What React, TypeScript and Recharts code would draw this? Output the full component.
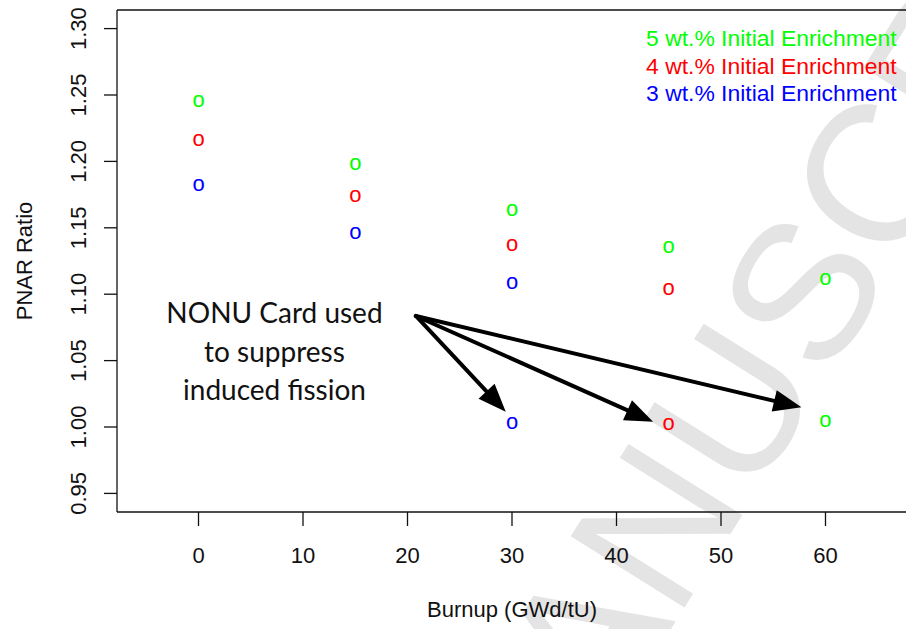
import React from "react";
import {
  ScatterChart,
  Scatter,
  XAxis,
  YAxis,
  ReferenceLine,
  ReferenceDot,
} from "recharts";

// burnup points (GWd/tU) and PNAR ratios per enrichment
const burnup = [0, 15, 30, 45, 60];
const pnar5 = [1.245, 1.198, 1.163, 1.135, 1.111];
const pnar4 = [1.216, 1.174, 1.137, 1.104];
const pnar3 = [1.182, 1.146, 1.108];

// runs with the NONU card (5, 4, 3 wt.%)
const nonuBurnup = [60, 45, 30];
const nonuPnar = [1.004, 1.002, 1.003];

const seriesNames = [
  "5 wt.% Initial Enrichment",
  "4 wt.% Initial Enrichment",
  "3 wt.% Initial Enrichment",
];
const seriesColors = ["#00ff00", "#ff0000", "#0000ff"];

const xTicks = [0, 10, 20, 30, 40, 50, 60];
const yTicks = [0.95, 1.0, 1.05, 1.1, 1.15, 1.2, 1.25, 1.3];

// annotation: arrow tail and tips, text anchor
const arrowTail = [20.8, 1.0836];
const arrowTipX = [29.4, 43.5, 57.7];
const arrowTipY = [1.0115, 1.004, 1.0148];
const noteLines = ["NONU Card used", "to suppress", "induced fission"];
const noteAt = [7.27, 1.0492];

const X_DOMAIN = [-7.8, 67.8];
const Y_DOMAIN = [0.936, 1.314];

const FONT = "'Liberation Sans', Arial, Helvetica, sans-serif";

const pnarSets = [pnar5, pnar4, pnar3];
const seriesData = pnarSets.map((vals, k) =>
  vals
    .map((y, i) => ({ x: burnup[i], y }))
    .concat({ x: nonuBurnup[k], y: nonuPnar[k] })
);

function LetterO(props: any) {
  const { cx, cy, fill } = props;
  if (cx == null || cy == null) return null;
  return (
    <text
      x={cx}
      y={cy + 5.7}
      textAnchor="middle"
      fill={fill}
      fontSize={22}
      fontFamily={FONT}
    >
      o
    </text>
  );
}

function Arrow(props: any) {
  const { x1, y1, x2, y2 } = props;
  if (x1 == null) return null;
  const dx = x2 - x1;
  const dy = y2 - y1;
  const len = Math.sqrt(dx * dx + dy * dy);
  const ux = dx / len;
  const uy = dy / len;
  const head = 28;
  const half = 11;
  const bx = x2 - ux * head;
  const by = y2 - uy * head;
  const pts = [
    [x2, y2],
    [bx - uy * half, by + ux * half],
    [bx + uy * half, by - ux * half],
  ]
    .map((p) => p.join(","))
    .join(" ");
  return (
    <g>
      <line
        x1={x1}
        y1={y1}
        x2={bx + ux * 2}
        y2={by + uy * 2}
        stroke="#000"
        strokeWidth={4}
        strokeLinecap="round"
      />
      <polygon points={pts} fill="#000" />
    </g>
  );
}

function Note(props: any) {
  const { cx, cy } = props;
  if (cx == null) return null;
  return (
    <g>
      {noteLines.map((t, i) => (
        <text
          key={t}
          x={cx}
          y={cy + (i - 1) * 38.5}
          textAnchor="middle"
          fontSize={28}
          fontFamily="Lato, 'Open Sans', sans-serif"
          fill="#111"
        >
          {t}
        </text>
      ))}
    </g>
  );
}

function XTick(props: any) {
  const { x, y, payload } = props;
  return (
    <text x={x} y={y} dy={35} textAnchor="middle" fontSize={22} fontFamily={FONT} fill="#111">
      {payload.value}
    </text>
  );
}

function YTick(props: any) {
  const { x, y, payload } = props;
  const bx = x - 16;
  return (
    <text
      x={bx}
      y={y}
      transform={`rotate(-90, ${bx}, ${y})`}
      textAnchor="middle"
      fontSize={22}
      fontFamily={FONT}
      fill="#111"
    >
      {Number(payload.value).toFixed(2)}
    </text>
  );
}

function XTitle(props: any) {
  const vb = props.viewBox || { x: 117, y: 512, width: 790, height: 117 };
  const cx = vb.x + vb.width / 2;
  const by = vb.y + 105;
  return (
    <text x={cx} y={by} textAnchor="middle" fontSize={22} fontFamily={FONT} fill="#111">
      Burnup (GWd/tU)
    </text>
  );
}

function YTitle(props: any) {
  const vb = props.viewBox || { x: 0, y: 10, width: 117, height: 502 };
  const bx = vb.x + 32;
  const cy = vb.y + vb.height / 2;
  return (
    <text
      x={bx}
      y={cy}
      transform={`rotate(-90, ${bx}, ${cy})`}
      textAnchor="middle"
      fontSize={22}
      fontFamily={FONT}
      fill="#111"
    >
      PNAR Ratio
    </text>
  );
}

export default function App() {
  return (
    <div
      style={{
        position: "absolute",
        left: 0,
        top: 0,
        width: 906,
        height: 629,
        overflow: "hidden",
        background: "#fff",
      }}
    >
      <svg
        width={906}
        height={629}
        style={{ position: "absolute", left: 0, top: 0 }}
      >
        <text
          x={521}
          y={869}
          transform="rotate(-58, 521, 869)"
          fontSize={195}
          fontFamily={FONT}
          fill="#e4e4e4"
        >
          MANUSCRIPT
        </text>
        {seriesNames.map((n, i) => (
          <text
            key={n}
            x={896.7}
            y={46 + i * 27.5}
            textAnchor="end"
            fontSize={22.9}
            fontFamily={FONT}
            fill={seriesColors[i]}
          >
            {n}
          </text>
        ))}
      </svg>
      <div style={{ position: "absolute", left: 0, top: 0 }}>
        <ScatterChart
          width={908}
          height={629}
          margin={{ top: 10, right: 1, bottom: 0, left: 0 }}
        >
          <XAxis
            type="number"
            dataKey="x"
            domain={X_DOMAIN}
            ticks={xTicks}
            allowDataOverflow
            height={117}
            tickSize={14}
            tickLine={{ stroke: "#111", strokeWidth: 1.3 }}
            axisLine={{ stroke: "#111", strokeWidth: 1.3 }}
            tick={<XTick />}
            label={<XTitle />}
          />
          <YAxis
            type="number"
            dataKey="y"
            domain={Y_DOMAIN}
            ticks={yTicks}
            allowDataOverflow
            width={117}
            tickSize={13}
            tickLine={{ stroke: "#111", strokeWidth: 1.3 }}
            axisLine={{ stroke: "#111", strokeWidth: 1.3 }}
            tick={<YTick />}
            label={<YTitle />}
          />
          <ReferenceLine y={Y_DOMAIN[1]} stroke="#111" strokeWidth={1.3} />
          {arrowTipX.map((tx, i) => (
            <ReferenceLine
              key={i}
              segment={[
                { x: arrowTail[0], y: arrowTail[1] },
                { x: tx, y: arrowTipY[i] },
              ]}
              shape={Arrow}
            />
          ))}
          <ReferenceDot x={noteAt[0]} y={noteAt[1]} r={0} shape={Note} />
          {seriesData.map((d, i) => (
            <Scatter
              key={seriesNames[i]}
              name={seriesNames[i]}
              data={d}
              fill={seriesColors[i]}
              shape={LetterO}
              isAnimationActive={false}
            />
          ))}
        </ScatterChart>
      </div>
    </div>
  );
}
